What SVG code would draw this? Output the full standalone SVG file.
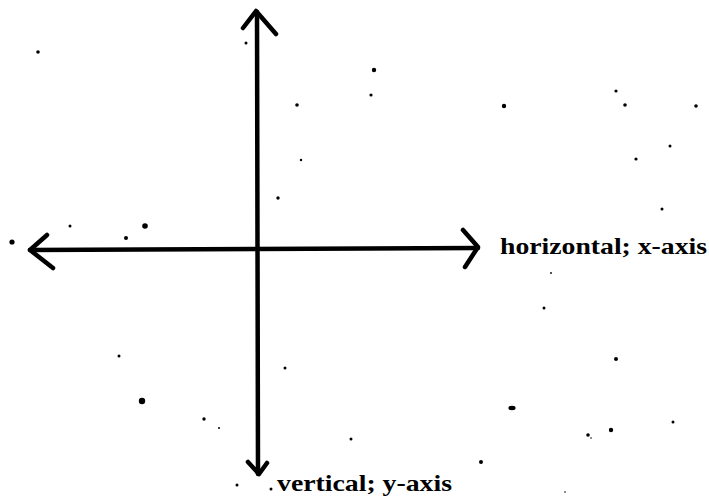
<svg xmlns="http://www.w3.org/2000/svg" width="709" height="501" viewBox="0 0 709 501">
<style>
.ax{fill:none;stroke:#000;stroke-width:4.5;stroke-linecap:round;stroke-linejoin:round}
.lbl{font-family:"Liberation Serif","DejaVu Serif",serif;font-weight:bold;font-size:24px;fill:#000}
.d{fill:#000}
</style>
<rect width="709" height="501" fill="#fff"/>
<g id="connectors">
<g id="y-axis">
<path class="ax" d="M257,12 L258,474"/>
<path class="ax" d="M243,28 L256,11 L276,34"/>
<path class="ax" d="M248,462 L259,474 L267,463"/>
</g>
<g id="x-axis">
<path class="ax" d="M30,250 L478,248"/>
<path class="ax" d="M47,235 L30,250 L53,268"/>
<path class="ax" d="M463,230 L478,247 L465,267"/>
</g>
</g>
<g id="label-x">
<text class="lbl" x="500" y="254" textLength="207" lengthAdjust="spacingAndGlyphs">horizontal; x-axis</text>
</g>
<g id="label-y">
<circle class="d" cx="271" cy="489" r="1.5"/>
<text class="lbl" x="277" y="491" textLength="175" lengthAdjust="spacingAndGlyphs">vertical; y-axis</text>
</g>
<g id="dots">
<circle class="d" cx="38" cy="52" r="1.8"/>
<circle class="d" cx="246" cy="43" r="1.5"/>
<circle class="d" cx="374" cy="70" r="2.2"/>
<circle class="d" cx="371" cy="95" r="1.6"/>
<circle class="d" cx="297" cy="105" r="1.8"/>
<circle class="d" cx="504" cy="106" r="2.2"/>
<circle class="d" cx="616" cy="91" r="1.6"/>
<circle class="d" cx="625" cy="105" r="1.8"/>
<circle class="d" cx="696" cy="106" r="1.8"/>
<circle class="d" cx="670" cy="146" r="1.5"/>
<circle class="d" cx="636" cy="159" r="1.6"/>
<circle class="d" cx="301" cy="160" r="1.2"/>
<circle class="d" cx="278" cy="198" r="1.7"/>
<circle class="d" cx="662" cy="209" r="1.5"/>
<circle class="d" cx="70" cy="226" r="1.5"/>
<circle class="d" cx="145" cy="226" r="2.8"/>
<circle class="d" cx="126" cy="238" r="2"/>
<circle class="d" cx="12" cy="242" r="2.6"/>
<circle class="d" cx="551" cy="273" r="0.9"/>
<circle class="d" cx="544" cy="308" r="1.5"/>
<circle class="d" cx="119" cy="356" r="1.5"/>
<circle class="d" cx="142" cy="401" r="3.2"/>
<circle class="d" cx="204" cy="419" r="1.7"/>
<circle class="d" cx="219" cy="428" r="1"/>
<circle class="d" cx="237" cy="485" r="1.5"/>
<circle class="d" cx="285" cy="368" r="1.5"/>
<circle class="d" cx="616" cy="359" r="2"/>
<ellipse class="d" cx="512" cy="408" rx="3.6" ry="2.2"/>
<circle class="d" cx="673" cy="422" r="1.5"/>
<circle class="d" cx="611" cy="430" r="2.2"/>
<circle class="d" cx="588" cy="435" r="1.8"/>
<circle class="d" cx="591" cy="438" r="0.8"/>
<circle class="d" cx="351" cy="439" r="1.5"/>
<circle class="d" cx="481" cy="462" r="2"/>
<circle class="d" cx="565" cy="492" r="0.8"/>
</g>
</svg>
